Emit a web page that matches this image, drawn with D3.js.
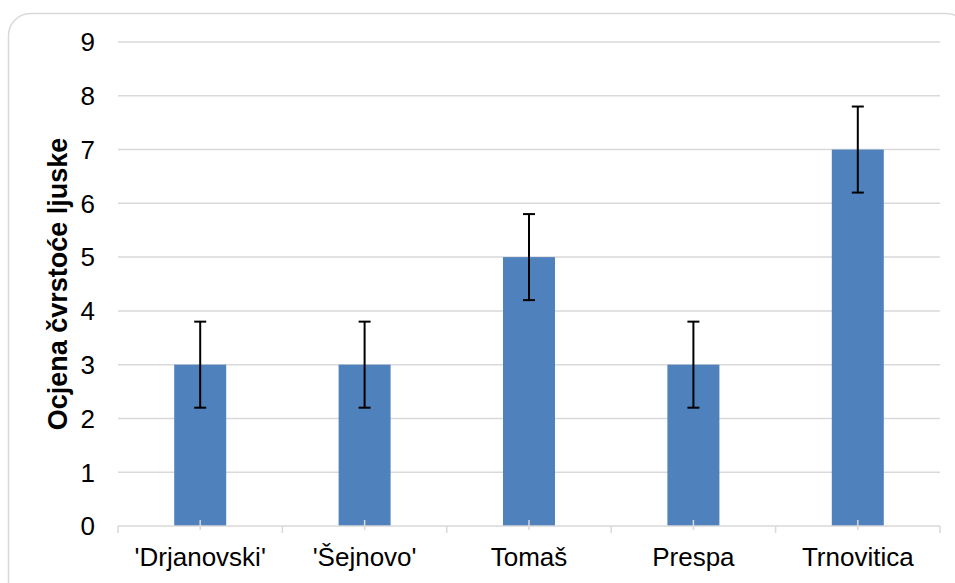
<!DOCTYPE html>
<html>
<head>
<meta charset="utf-8">
<script src="https://cdn.jsdelivr.net/npm/d3@7"></script>
<style>
  body { margin: 0; background: #fff; }
  svg { font-family: "Liberation Sans", Arial, sans-serif; }
</style>
</head>
<body>
<svg id="chart" width="955" height="583"></svg>
<script>
const categories = ["'Drjanovski'", "'Šejnovo'", "Tomaš", "Prespa", "Trnovitica"];
const values = [3, 3, 5, 3, 7];
const errors = [0.8, 0.8, 0.8, 0.8, 0.8];
const yTicks = [0, 1, 2, 3, 4, 5, 6, 7, 8, 9];
const yTitle = "Ocjena čvrstoće ljuske";

const svg = d3.select("#chart");
const margin = { top: 42, right: 15, bottom: 57, left: 118 };
const width = 955 - margin.left - margin.right;
const height = 583 - margin.top - margin.bottom;

// outer frame, runs off the right and bottom edges
svg.append("rect")
  .attr("x", 8.5).attr("y", 13.5)
  .attr("width", 960).attr("height", 590)
  .attr("rx", 22).attr("ry", 22)
  .attr("fill", "#fff")
  .attr("stroke", "#d9d9d9")
  .attr("stroke-width", 1.5);

const g = svg.append("g").attr("transform", `translate(${margin.left}, ${margin.top})`);

const x = d3.scaleBand().domain(categories).range([0, width]).paddingInner(0).paddingOuter(0);
const y = d3.scaleLinear().domain([0, 9]).range([height, 0]);

// gridlines
g.append("g")
  .selectAll("line")
  .data(yTicks.filter(d => d > 0))
  .enter()
  .append("line")
  .attr("x1", 0).attr("x2", width)
  .attr("y1", d => y(d)).attr("y2", d => y(d))
  .attr("stroke", "#d9d9d9")
  .attr("stroke-width", 1.5);

// y tick labels
g.append("g")
  .selectAll("text")
  .data(yTicks)
  .enter()
  .append("text")
  .attr("x", -23)
  .attr("y", d => y(d))
  .attr("dy", "0.36em")
  .attr("text-anchor", "end")
  .attr("font-size", 26)
  .attr("fill", "#000")
  .text(d => d);

// bars
const barW = 52;
g.selectAll(".bar")
  .data(values)
  .enter()
  .append("rect")
  .attr("class", "bar")
  .attr("fill", "#4f81bd")
  .attr("x", (d, i) => x(categories[i]) + x.bandwidth() / 2 - barW / 2)
  .attr("y", d => y(d))
  .attr("width", barW)
  .attr("height", d => height - y(d));

// x axis line and ticks
const axis = g.append("g").attr("transform", `translate(0, ${height})`);
axis.append("line")
  .attr("x1", 0).attr("x2", width)
  .attr("stroke", "#d9d9d9").attr("stroke-width", 1.5);
const bounds = categories.map(c => x(c)).concat([width]);
axis.selectAll(".tb")
  .data(bounds)
  .enter()
  .append("line")
  .attr("x1", d => d).attr("x2", d => d)
  .attr("y1", 0).attr("y2", 7)
  .attr("stroke", "#d9d9d9").attr("stroke-width", 1.5);
axis.selectAll(".tc")
  .data(categories)
  .enter()
  .append("line")
  .attr("x1", d => x(d) + x.bandwidth() / 2).attr("x2", d => x(d) + x.bandwidth() / 2)
  .attr("y1", -6).attr("y2", 4)
  .attr("stroke", "#d9d9d9").attr("stroke-width", 1.5);
axis.selectAll(".xl")
  .data(categories)
  .enter()
  .append("text")
  .attr("x", d => x(d) + x.bandwidth() / 2)
  .attr("y", 40)
  .attr("text-anchor", "middle")
  .attr("font-size", 26)
  .attr("fill", "#000")
  .text(d => d);

// error bars
const eb = g.append("g").attr("stroke", "#000").attr("stroke-width", 2);
values.forEach((v, i) => {
  const cx = x(categories[i]) + x.bandwidth() / 2;
  const lo = y(v - errors[i]), hi = y(v + errors[i]);
  eb.append("line").attr("x1", cx).attr("x2", cx).attr("y1", hi).attr("y2", lo);
  eb.append("line").attr("x1", cx - 6).attr("x2", cx + 6).attr("y1", hi).attr("y2", hi);
  eb.append("line").attr("x1", cx - 6).attr("x2", cx + 6).attr("y1", lo).attr("y2", lo);
});

// y axis title
svg.append("text")
  .attr("transform", `translate(67, ${margin.top + height / 2}) rotate(-90)`)
  .attr("text-anchor", "middle")
  .attr("font-size", 27)
  .attr("font-weight", "bold")
  .attr("fill", "#000")
  .text(yTitle);
</script>
</body>
</html>
